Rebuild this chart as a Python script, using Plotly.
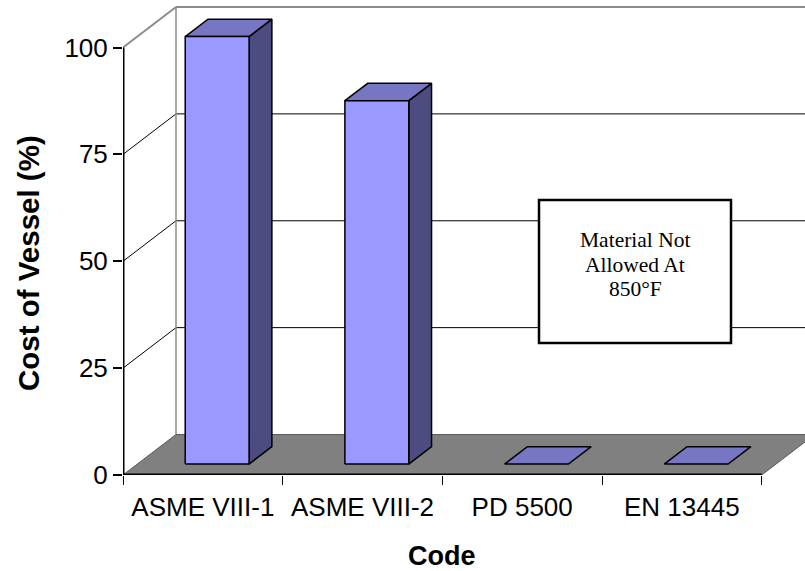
import plotly.graph_objects as go

# ---- data ----
categories = ["ASME VIII-1", "ASME VIII-2", "PD 5500", "EN 13445"]
cost_pct = [100, 85, 0, 0]
y_ticks = [0, 25, 50, 75, 100]
note_lines = ["Material Not", "Allowed At", "850°F"]

# ---- 3D geometry (style) ----
DX, DY = 0.332, 9.47          # depth offset of the back wall (x units, y units)
F_FRONT, F_BACK = 0.27, 0.70   # bar depth position (fraction of full depth)
BAR_W = 0.40                   # bar width (fraction of category)
FRONT_C, TOP_C, SIDE_C = "#9999FF", "#7676C2", "#4C4C80"
FLOOR_C = "#808080"
WALL_C = "#8C8C8C"

W, H = 805, 571
ML, MR, MT, MB = 123, 0, 3, 96
PX_X = 159.67
PX_Y = 4.275
xmin = -0.5
xmax = xmin + (W - ML - MR) / PX_X
ymin = 0
ymax = (H - MT - MB) / PX_Y
n = len(categories)

fig = go.Figure()

def poly(xs, ys, fill, line_c="black", lw=1.5):
    fig.add_trace(go.Scatter(x=xs + [xs[0]], y=ys + [ys[0]], mode="lines", fill="toself",
                             fillcolor=fill, line=dict(color=line_c, width=lw),
                             hoverinfo="skip", showlegend=False))

def seg(xs, ys, color, lw):
    fig.add_trace(go.Scatter(x=xs, y=ys, mode="lines", line=dict(color=color, width=lw),
                             hoverinfo="skip", showlegend=False))

# back wall gridlines & left wall diagonals
for t in y_ticks[1:]:
    col = WALL_C if t == max(y_ticks) else "black"
    lw = 2 if t == max(y_ticks) else 1
    seg([xmin + DX, xmax + 1], [t + DY, t + DY], col, lw)
    seg([xmin, xmin + DX], [t, t + DY], col, lw)
# back wall left edge
seg([xmin + DX, xmin + DX], [DY, max(y_ticks) + DY], WALL_C, 1.5)

# floor
fx0, fx1 = xmin, xmin + n
poly([fx0, fx1, fx1 + DX, fx0 + DX], [0, 0, DY, DY], FLOOR_C, "#5a5a5a", 1)

# bars
for i, v in enumerate(cost_pct):
    x0, x1 = i - BAR_W / 2, i + BAR_W / 2
    fdx, fdy = F_FRONT * DX, F_FRONT * DY
    bdx, bdy = F_BACK * DX, F_BACK * DY
    if v > 0:
        poly([x1 + fdx, x1 + bdx, x1 + bdx, x1 + fdx], [fdy, bdy, v + bdy, v + fdy], SIDE_C)
    poly([x0 + fdx, x1 + fdx, x1 + bdx, x0 + bdx], [v + fdy, v + fdy, v + bdy, v + bdy], TOP_C)
    if v > 0:
        poly([x0 + fdx, x1 + fdx, x1 + fdx, x0 + fdx], [fdy, fdy, v + fdy, v + fdy], FRONT_C)

# front axis line and floor front edge
seg([xmin, xmin], [0, max(y_ticks)], "black", 3)
seg([fx0, fx1], [0, 0], "black", 3)

# note box
bx0 = xmin + (539 - ML) / PX_X
bx1 = xmin + (731 - ML) / PX_X
by1 = (H - MB - 200) / PX_Y
by0 = (H - MB - 343) / PX_Y
fig.add_shape(type="rect", xref="x", yref="y", x0=bx0, x1=bx1, y0=by0, y1=by1,
              fillcolor="white", line=dict(color="black", width=2.5), layer="above")
for k, line in enumerate(note_lines):
    fig.add_annotation(xref="x", yref="y", x=(bx0 + bx1) / 2,
                       y=(H - MB - (240 + 24.5 * k)) / PX_Y,
                       text=line, showarrow=False, align="center",
                       xanchor="center", yanchor="middle",
                       font=dict(family="Liberation Serif, Times New Roman", size=21.5, color="black"))

# axis titles
fig.add_annotation(xref="paper", yref="y", x=(28 - ML) / (W - ML - MR), y=(H - MB - 263) / PX_Y,
                   text="<b>Cost of Vessel (%)</b>", textangle=-90, showarrow=False,
                   xanchor="center", yanchor="middle",
                   font=dict(family="Liberation Sans, Arial", size=29.5, color="black"))
fig.add_annotation(xref="x", yref="paper", x=(n - 1) / 2, y=-(556 - (H - MB)) / (H - MT - MB),
                   text="<b>Code</b>", showarrow=False, xanchor="center", yanchor="middle",
                   font=dict(family="Liberation Sans, Arial", size=27, color="black"))

fig.update_layout(
    width=W, height=H, margin=dict(l=ML, r=MR, t=MT, b=MB, pad=0),
    paper_bgcolor="white", plot_bgcolor="white", showlegend=False,
    xaxis=dict(range=[xmin, xmax], showgrid=False, zeroline=False, showline=False,
               tickmode="array", tickvals=list(range(n)), ticktext=categories, ticks="",
               ticklabelstandoff=14,
               tickfont=dict(family="Liberation Sans, Arial", size=26, color="black"),
               minor=dict(tickmode="array", tickvals=[k - 0.5 for k in range(n + 1)],
                          ticks="outside", ticklen=9, tickcolor="black", tickwidth=1),
               fixedrange=True),
    yaxis=dict(range=[ymin, ymax], showgrid=False, zeroline=False, showline=False,
               tickmode="array", tickvals=y_ticks, ticks="outside", ticklen=9,
               tickcolor="black", tickwidth=1.5,
               tickfont=dict(family="Liberation Sans, Arial", size=26, color="black"),
               fixedrange=True),
)

fig.write_html("out.html", config={"displayModeBar": False},
               post_script="document.body.style.margin='0';document.body.style.overflow='hidden';")
